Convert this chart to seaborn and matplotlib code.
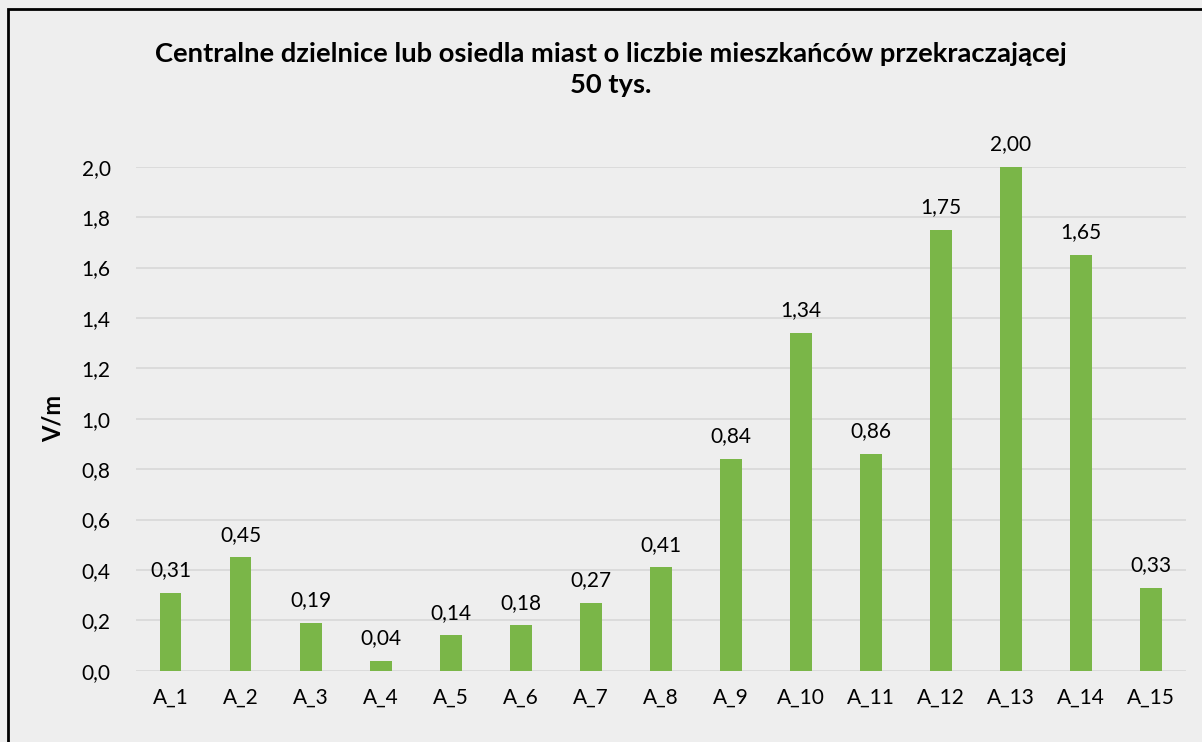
import pandas as pd
import numpy as np
import matplotlib
matplotlib.use('Agg')
import matplotlib.pyplot as plt
import seaborn as sns

# dane
kategorie = ['A_1', 'A_2', 'A_3', 'A_4', 'A_5', 'A_6', 'A_7', 'A_8',
             'A_9', 'A_10', 'A_11', 'A_12', 'A_13', 'A_14', 'A_15']
wartosci = [0.31, 0.45, 0.19, 0.04, 0.14, 0.18, 0.27, 0.41,
            0.84, 1.34, 0.86, 1.75, 2.00, 1.65, 0.33]
y_ticks = [0.0, 0.2, 0.4, 0.6, 0.8, 1.0, 1.2, 1.4, 1.6, 1.8, 2.0]

df = pd.DataFrame({'punkt': kategorie, 'E': wartosci})

bg = '#eeeeee'
sns.set_theme(style='white', rc={'figure.facecolor': bg, 'axes.facecolor': bg,
                                 'text.color': 'black', 'axes.labelcolor': 'black',
                                 'xtick.color': 'black', 'ytick.color': 'black'})
plt.rcParams['font.family'] = ['Lato', 'DejaVu Sans']

fig = plt.figure(figsize=(12.02, 7.42), dpi=100)
ax = fig.add_axes([0.1128, 0.0961, 0.8739, 0.6792])

sns.barplot(data=df, x='punkt', y='E', color='#7ab648', saturation=1,
            width=0.31, linewidth=0, ax=ax)

ax.set_ylim(0, 2.0)
ax.set_xlim(-0.5, len(kategorie) - 0.5)
ax.set_yticks(y_ticks)
ax.set_yticklabels([f'{v:.1f}'.replace('.', ',') for v in y_ticks])
ax.yaxis.grid(True, color='#d9d9d9', linewidth=1.3)
ax.set_axisbelow(True)
for s in ax.spines.values():
    s.set_visible(False)
ax.tick_params(axis='both', length=0, labelsize=15, colors='black')
ax.tick_params(axis='y', pad=18)
ax.tick_params(axis='x', pad=12)
ax.set_xlabel('')
ax.set_ylabel('V/m', fontsize=17, fontweight='bold', labelpad=12)

# etykiety nad slupkami
for i, v in enumerate(wartosci):
    ax.annotate(f'{v:.2f}'.replace('.', ','), (i, v), xytext=(0, 9),
                textcoords='offset points', ha='center', va='bottom',
                fontsize=15, clip_on=False)

fig.text(0.508, 0.907,
         'Centralne dzielnice lub osiedla miast o liczbie mieszkańców przekraczającej\n50 tys.',
         ha='center', va='center', fontsize=19.7, fontweight='bold',
         linespacing=1.35)

# ramka wykresu
fig.patches.append(plt.Rectangle((8 / 1202, -0.1), 1.2, 1 - 9 / 742 + 0.1,
                                 transform=fig.transFigure, fill=False,
                                 edgecolor='black', linewidth=2))

fig.savefig('out.png', dpi=100, facecolor=bg)
